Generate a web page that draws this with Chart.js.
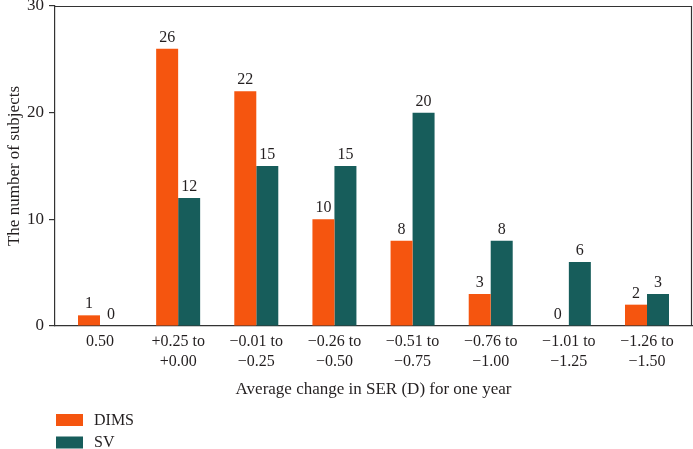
<!DOCTYPE html>
<html>
<head>
<meta charset="utf-8">
<script src="https://cdn.jsdelivr.net/npm/chart.js@4"></script>
<style>
html,body{margin:0;padding:0;background:#fff;}
#wrap{width:693px;height:449px;position:relative;}
</style>
</head>
<body>
<div id="wrap"><canvas id="c" width="693" height="449"></canvas></div>
<script>
const categories = [
  ["0.50"],
  ["+0.25 to", "+0.00"],
  ["\u22120.01 to", "\u22120.25"],
  ["\u22120.26 to", "\u22120.50"],
  ["\u22120.51 to", "\u22120.75"],
  ["\u22120.76 to", "\u22121.00"],
  ["\u22121.01 to", "\u22121.25"],
  ["\u22121.26 to", "\u22121.50"]
];
const seriesNames = ["DIMS", "SV"];
const dimsValues = [1, 26, 22, 10, 8, 3, 0, 2];
const svValues = [0, 12, 15, 15, 20, 8, 6, 3];
const yTicks = [0, 10, 20, 30];
const xTitle = "Average change in SER (D) for one year";
const yTitle = "The number of subjects";

const colors = ["#F5550F", "#175D5B"];
const FONT = "'Liberation Serif', 'DejaVu Serif', serif";
const TXT = "#231f20";

function toPoints(vals){ return vals.map((v,i)=>({x:i, y:v})); }

const framePlugin = {
  id: 'frame',
  afterDraw(chart){
    const {ctx, chartArea:a} = chart;
    ctx.save();
    ctx.strokeStyle = '#333';
    ctx.lineWidth = 1.2;
    ctx.beginPath();
    ctx.moveTo(a.left, a.top + 0.5);
    ctx.lineTo(a.right - 0.5, a.top + 0.5);
    ctx.lineTo(a.right - 0.5, a.bottom);
    ctx.stroke();
    ctx.restore();
  }
};

const labelPlugin = {
  id: 'barLabels',
  afterDatasetsDraw(chart){
    const ctx = chart.ctx;
    ctx.save();
    ctx.font = "16px " + FONT;
    ctx.fillStyle = TXT;
    ctx.textAlign = 'center';
    ctx.textBaseline = 'alphabetic';
    chart.data.datasets.forEach((ds, di)=>{
      const meta = chart.getDatasetMeta(di);
      meta.data.forEach((bar, i)=>{
        const v = ds.data[i].y;
        ctx.fillText(String(v), bar.x, bar.y - 7);
      });
    });
    ctx.restore();
  }
};

const legendPlugin = {
  id: 'vLegend',
  afterDraw(chart){
    const ctx = chart.ctx;
    ctx.save();
    ctx.font = "16px " + FONT;
    ctx.textBaseline = 'middle';
    ctx.textAlign = 'left';
    chart.data.datasets.forEach((ds, di)=>{
      const y = 414 + di * 22.5;
      ctx.fillStyle = ds.backgroundColor;
      ctx.fillRect(56, y, 27, 12);
      ctx.fillStyle = TXT;
      ctx.fillText(ds.label, 94, y + 6.5);
    });
    ctx.restore();
  }
};

new Chart(document.getElementById('c'), {
  type: 'bar',
  data: {
    datasets: [
      {label: seriesNames[0], data: toPoints(dimsValues), backgroundColor: colors[0], borderWidth: 0},
      {label: seriesNames[1], data: toPoints(svValues), backgroundColor: colors[1], borderWidth: 0}
    ]
  },
  options: {
    responsive: false,
    animation: false,
    devicePixelRatio: 1,
    layout: {padding: {top: 6, right: 1, bottom: 49, left: 0}},
    datasets: {bar: {categoryPercentage: 0.563, barPercentage: 1.0}},
    plugins: {legend: {display: false}, tooltip: {enabled: false}},
    scales: {
      x: {
        type: 'linear',
        min: -0.576,
        max: 7.576,
        offset: false,
        afterFit(s){ s.height = 74; s.paddingLeft = 0; s.paddingRight = 0; },
        afterBuildTicks(s){ s.ticks = categories.map((c,i)=>({value:i})); },
        grid: {display: false, drawTicks: false},
        border: {display: true, color: '#333', width: 1.2},
        ticks: {
          autoSkip: false,
          maxRotation: 0,
          padding: 6,
          color: TXT,
          font: {family: FONT, size: 16, lineHeight: 1.25},
          callback: (v)=> categories[v] || ''
        },
        title: {display: true, text: xTitle, color: TXT, font: {family: FONT, size: 17}, padding: {top: 6, bottom: 0}}
      },
      y: {
        min: 0,
        max: 30,
        afterFit(s){ s.width = 55; s.paddingTop = 0; s.paddingBottom = 0; },
        afterBuildTicks(s){ s.ticks = yTicks.map(v=>({value:v})); },
        grid: {display: true, drawOnChartArea: false, drawTicks: true, tickLength: 6, color: '#333', lineWidth: 1.2},
        border: {display: true, color: '#333', width: 1.2},
        ticks: {padding: 5, color: TXT, font: {family: FONT, size: 17}},
        title: {display: true, text: yTitle, color: TXT, font: {family: FONT, size: 17}, padding: {top: 4, bottom: 4}}
      }
    }
  },
  plugins: [framePlugin, labelPlugin, legendPlugin]
});
</script>
</body>
</html>
